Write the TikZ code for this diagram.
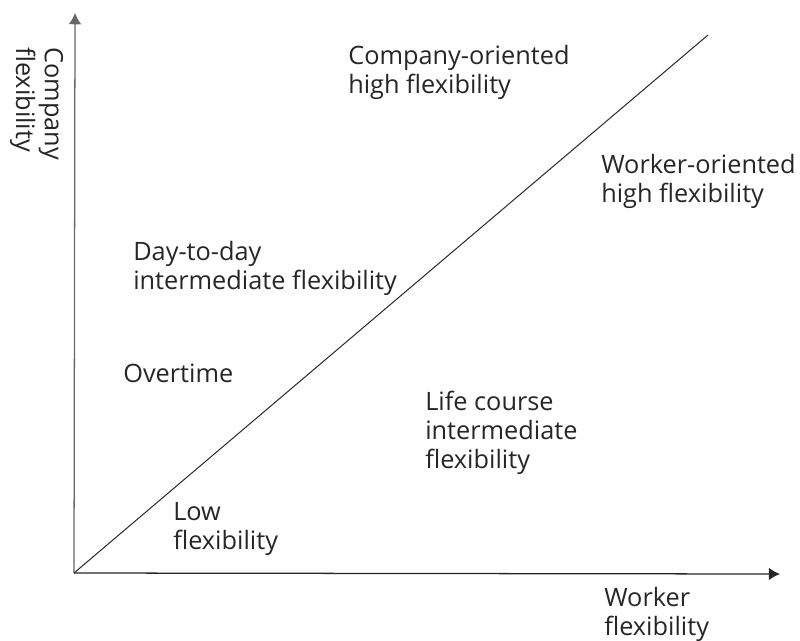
\documentclass[tikz,border=0pt]{standalone}
\usepackage{fontspec}
\setmainfont{Open Sans}
\usetikzlibrary{arrows.meta}

\begin{document}
\begin{tikzpicture}[x=0.025cm, y=-0.025cm, >={Latex[length=8pt,width=9pt]},
    every node/.style={font=\fontsize{18}{20.6}\selectfont, align=left,
        inner sep=0pt, anchor=base west, text=black!85}]
    \useasboundingbox (0,0) rectangle (800,640);

    \coordinate (origin) at (74,573);
    \coordinate (ytip) at (75,13);
    \coordinate (xtip) at (780,574);
    \coordinate (diagend) at (708,35);

    % labels sit on the baseline of their last line
    \node [rotate=-90] (ylabel) at (16,47) {Company\\flexibility};
    \node (xlabel) at (604,635) {Worker\\flexibility};
    \node (comphigh) at (348,93) {Company-oriented\\high flexibility};
    \node (workhigh) at (601,202) {Worker-oriented\\high flexibility};
    \node (daytoday) at (133,289) {Day-to-day\\intermediate flexibility};
    \node (overtime) at (123,382) {Overtime};
    \node (lifecourse) at (425,468) {Life course\\intermediate\\flexibility};
    \node (lowflex) at (173,549) {Low\\flexibility};

    \draw [->, line width=0.9pt, black!60] (origin) -- (ytip);
    \draw [->, line width=0.9pt, black!85] (origin) -- (xtip);
    \draw [line width=0.7pt, black!85] (origin) -- (diagend);
\end{tikzpicture}
\end{document}
